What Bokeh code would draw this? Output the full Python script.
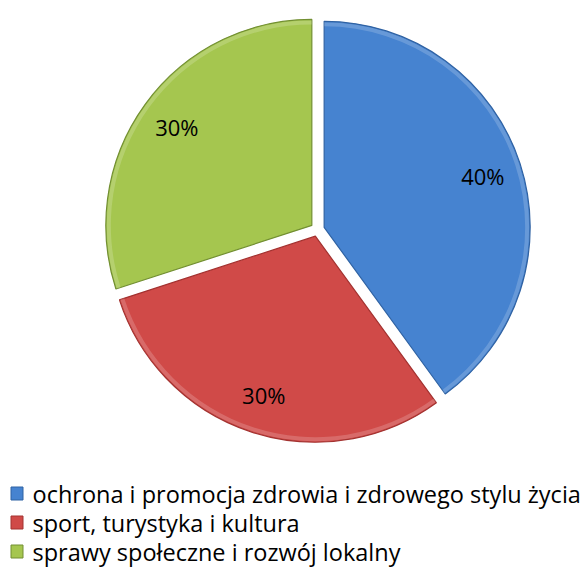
import math
from bokeh.plotting import figure
from bokeh.models import Range1d, ColumnDataSource
from bokeh.core.properties import value
from bokeh.embed import file_html
from bokeh.resources import INLINE

categories = ["ochrona i promocja zdrowia i zdrowego stylu życia",
              "sport, turystyka i kultura",
              "sprawy społeczne i rozwój lokalny"]
values = [40, 30, 30]
labels = ["40%", "30%", "30%"]
colors = ["#4683D0", "#D04A48", "#A5C64F"]
edge_colors = ["#2F62A3", "#A33230", "#728F32"]

W, H = 585, 570
p = figure(width=W, height=H, x_range=Range1d(0, 585), y_range=Range1d(0, 570),
           output_backend="svg", toolbar_location=None, min_border=0)
p.axis.visible = False
p.grid.visible = False
p.outline_line_color = None
p.background_fill_color = "white"

cx, cy = 317.0, 341.0
r = 206.0
explode = 7.0
label_frac = 0.81

total = float(sum(values))
xs, ys, starts, ends, lx, ly = [], [], [], [], [], []
cum = 0.0
for v in values:
    f0 = cum / total
    cum += v
    f1 = cum / total
    a0 = math.radians(90 - 360 * f1)
    a1 = math.radians(90 - 360 * f0)
    mid = (a0 + a1) / 2
    ox = cx + explode * math.cos(mid)
    oy = cy + explode * math.sin(mid)
    xs.append(ox); ys.append(oy)
    starts.append(a0); ends.append(a1)
    lx.append(ox + label_frac * r * math.cos(mid))
    ly.append(oy + label_frac * r * math.sin(mid))

src = ColumnDataSource(dict(x=xs, y=ys, start=starts, end=ends, color=colors,
                            edge=edge_colors, lx=lx, ly=ly, label=labels))
p.wedge(x="x", y="y", radius=r, start_angle="start", end_angle="end",
        fill_color="color", line_color="edge", line_width=1.2, source=src)
# subtle rim highlight
p.annular_wedge(x="x", y="y", inner_radius=r - 5, outer_radius=r - 1,
                start_angle="start", end_angle="end", fill_color="white",
                fill_alpha=0.18, line_color=None, source=src)

p.text(x="lx", y="ly", text="label", text_align="center", text_baseline="middle",
       text_font=value("Open Sans"), text_font_size="22px", text_color="#000000",
       source=src)

# legend
leg_y = [77, 48, 19]
leg_src = ColumnDataSource(dict(x=[16.5] * 3, y=leg_y, color=colors, edge=edge_colors,
                                tx=[32] * 3, label=categories))
p.rect(x="x", y="y", width=12, height=13, fill_color="color", line_color="edge",
       line_width=1, source=leg_src)
p.text(x="tx", y="y", text="label", text_align="left", text_baseline="middle",
       text_font=value("Open Sans"), text_font_size="23.5px", text_color="#000000",
       source=leg_src)

open("out.html", "w").write(file_html(p, INLINE))
